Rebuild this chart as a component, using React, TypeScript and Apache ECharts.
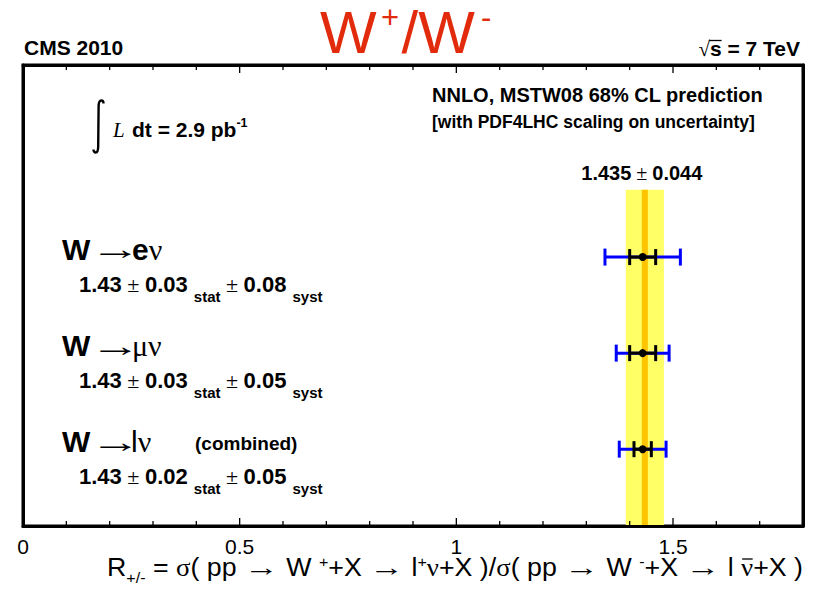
import React, { useEffect, useRef } from 'react';
import * as echarts from 'echarts';

const SANS = 'Liberation Sans';
const SERIF = 'Liberation Serif';

// ---------- data ----------
const channelLepton = ['e', 'μ', 'l'];
const ratio = [1.43, 1.43, 1.43];
const statErr = [0.03, 0.03, 0.02];
const systErr = [0.08, 0.05, 0.05];
const totalErr = [0.087, 0.061, 0.054];
const rowY = [2.8, 1.8, 0.8];
const predCentral = 1.435;
const predErr = 0.044;
const predTop = 3.5;
const xMin = 0;
const xMax = 1.8;
const xMajor = 0.5;
const majorTicks = [0, 0.5, 1, 1.5];
const minorTicks = [0.1, 0.2, 0.3, 0.4, 0.6, 0.7, 0.8, 0.9, 1.1, 1.2, 1.3, 1.4, 1.6, 1.7];
const yMin = 0;
const yMax = 4.8;
const lumiValue = '2.9';

// ---------- layout ----------
const GL = 23, GT = 65, GW = 780, GH = 461;

let _ctx: CanvasRenderingContext2D | null = null;
function measure(t: string, fs: number, bold: boolean, serif: boolean, italic: boolean) {
  if (!_ctx) _ctx = document.createElement('canvas').getContext('2d');
  const c = _ctx as CanvasRenderingContext2D;
  c.font = `${italic ? 'italic ' : ''}${bold ? 'bold' : 'normal'} ${fs}px "${serif ? SERIF : SANS}"`;
  return c.measureText(t).width;
}

type Run = { t: string; fs: number; b?: boolean; serif?: boolean; it?: boolean; dy?: number; over?: boolean; dx?: number; sx?: number; at?: number };

function runs(list: Run[], x0: number, baseline: number, color: string) {
  let x = x0;
  const els: any[] = [];
  for (const r of list) {
    if (r.at !== undefined) x = x0 + r.at;
    x += r.dx || 0;
    const sx = r.sx || 1;
    const w = measure(r.t, r.fs, !!r.b, !!r.serif, !!r.it) * sx;
    const k = r.serif ? 0.3375 : 0.3465;
    els.push({
      type: 'text',
      x,
      y: baseline + (r.dy || 0) - k * r.fs,
      scaleX: sx,
      z: 100,
      silent: true,
      style: {
        text: r.t,
        fontSize: r.fs,
        fontFamily: r.serif ? SERIF : SANS,
        fontWeight: r.b ? 'bold' : 'normal',
        fontStyle: r.it ? 'italic' : 'normal',
        fill: color,
        align: 'left',
        verticalAlign: 'middle',
      },
    });
    if (r.over) {
      const yy = baseline + (r.dy || 0) - 0.68 * r.fs;
      els.push({
        type: 'line', z: 100, silent: true,
        shape: { x1: x + 0.08 * w, y1: yy, x2: x + 0.95 * w, y2: yy },
        style: { stroke: color, lineWidth: 1.3 },
      });
    }
    x += w;
  }
  return { els, width: x - x0 };
}

function rowPx(y: number) {
  return GT + ((yMax - y) / (yMax - yMin)) * GH;
}

function buildGraphics() {
  const els: any[] = [];
  const red = '#E22A0C';
  const T = (t: string, x: number, baseline: number, fs: number, color: string) =>
    runs([{ t, fs }], x, baseline, color).els;
  // Title W+/W-
  els.push(...T('W', 320, 53, 60, red));
  els.push(...runs([{ t: '+', fs: 31 }], 381, 28.5, red).els);
  els.push(...T('/W', 401.5, 53, 60, red));
  els.push(...runs([{ t: '-', fs: 31 }], 481, 28.5, red).els);

  // CMS 2010
  els.push(...runs([{ t: 'CMS 2010', fs: 21, b: true }], 24, 55, '#000').els);
  // sqrt s = 7 TeV (right aligned at 800)
  const rs: Run[] = [{ t: '√', fs: 21, serif: true }, { t: 's', fs: 21, b: true }, { t: ' = 7 TeV', fs: 21, b: true }];
  const tmp = runs(rs, 0, 56, '#000');
  const sx0 = 800 - tmp.width;
  els.push(...runs(rs, sx0, 56, '#000').els);
  const wRad = measure('√', 21, false, true, false);
  const wS = measure('s', 21, true, false, false);
  els.push({
    type: 'line', z: 100, silent: true,
    shape: { x1: sx0 + wRad - 1, y1: 40.5, x2: sx0 + wRad + wS, y2: 40.5 },
    style: { stroke: '#000', lineWidth: 1.3 },
  });

  // Luminosity
  els.push({
    type: 'integral', x: 93, y: 100, z: 100, silent: true,
    style: { stroke: '#000', lineWidth: 2.4, fill: 'none' },
  });
  els.push(...runs([{ t: 'L', fs: 21, serif: true, it: true }], 113, 137, '#000').els);
  els.push(...runs([{ t: 'dt = ' + lumiValue + ' pb', fs: 21, b: true }, { t: '-1', fs: 12.5, b: true, dy: -9.5 }], 132, 137, '#000').els);

  // Prediction legend
  els.push(...runs([{ t: 'NNLO, MSTW08 68% CL prediction', fs: 20, b: true }], 432, 102, '#000').els);
  els.push(...runs([{ t: '[with PDF4LHC scaling on uncertainty]', fs: 17.5, b: true }], 432, 128, '#000').els);
  const pr: Run[] = [
    { t: predCentral.toFixed(3), fs: 20, b: true },
    { t: ' ± ', fs: 20, serif: true },
    { t: predErr.toFixed(3), fs: 20, b: true },
  ];
  const pw = runs(pr, 0, 0, '#000').width;
  const pcx = GL + ((predCentral - xMin) / (xMax - xMin)) * GW;
  els.push(...runs(pr, pcx - pw / 2 - 3, 180, '#000').els);

  // Row labels
  for (let i = 0; i < ratio.length; i++) {
    const py = rowPx(rowY[i]);
    const l1 = py + 2.5;
    const l2 = py + 35;
    const lep = channelLepton[i];
    const line1: Run[] = [
      { t: 'W', fs: 30, b: true },
      { t: '→', fs: 30, serif: true, sx: 1.7, at: 28 },
    ];
    if (lep === 'e') line1.push({ t: 'e', fs: 30, b: true, at: 70 });
    else if (lep === 'μ') line1.push({ t: 'μ', fs: 30, serif: true, at: 70 });
    else line1.push({ t: 'l', fs: 30, at: 69 });
    line1.push({ t: 'ν', fs: 30, serif: true });
    els.push(...runs(line1, 62, l1, '#000').els);
    if (lep === 'l') {
      els.push(...runs([{ t: '(combined)', fs: 19, b: true }], 195, l1 - 1.5, '#000').els);
    }
    const line2: Run[] = [
      { t: ratio[i].toFixed(2), fs: 22, b: true },
      { t: ' ± ', fs: 22, serif: true },
      { t: statErr[i].toFixed(2), fs: 22, b: true },
      { t: ' ', fs: 22, b: true },
      { t: 'stat', fs: 15, b: true, dy: 9.5 },
      { t: ' ± ', fs: 22, serif: true },
      { t: systErr[i].toFixed(2), fs: 22, b: true },
      { t: ' ', fs: 22, b: true },
      { t: 'syst', fs: 15, b: true, dy: 9.5 },
    ];
    els.push(...runs(line2, 79, l2, '#000').els);
  }

  // X axis title (compressed to fit the reference width)
  const F = 25, S = 15;
  const arrow = (): Run => ({ t: '→', fs: F, serif: true, sx: 1.3 });
  const tr: Run[] = [
    { t: 'R', fs: F },
    { t: '+/-', fs: S, dy: 6.5 },
    { t: ' = ', fs: F },
    { t: 'σ', fs: F, serif: true },
    { t: '( pp ', fs: F },
    arrow(),
    { t: ' W ', fs: F },
    { t: '+', fs: S, dy: -9 },
    { t: '+X ', fs: F },
    arrow(),
    { t: ' l', fs: F },
    { t: '+', fs: S, dy: -9 },
    { t: 'ν', fs: F, serif: true },
    { t: '+X )/', fs: F },
    { t: 'σ', fs: F, serif: true },
    { t: '( pp ', fs: F },
    arrow(),
    { t: ' W ', fs: F },
    { t: '-', fs: S, dy: -9 },
    { t: '+X ', fs: F },
    arrow(),
    { t: ' l ', fs: F },
    { t: 'ν', fs: F, serif: true, over: true },
    { t: '+X )', fs: F },
  ];
  const tt = runs(tr, 0, 0, '#000');
  const sc = (803 - 107) / tt.width;
  els.push({ type: 'group', x: 107, y: 576, scaleX: sc, z: 100, children: tt.els });
  return els;
}

let registered = false;
function registerShapes() {
  if (registered) return;
  registered = true;
  const d = 'M 10.5 3.5 C 10.5 1.5 9.5 0.5 8.3 0.5 C 6.2 0.5 5.6 2.5 5.6 7 L 5.2 46 C 5.2 50.5 4.6 52.5 2.7 52.5 C 1.5 52.5 0.5 51.5 0.5 49.5';
  echarts.graphic.registerShape('integral', (echarts.graphic as any).extendPath(d, {}));
}

export default function App() {
  const ref = useRef<HTMLDivElement>(null);
  useEffect(() => {
    if (!ref.current) return;
    registerShapes();
    const chart = echarts.init(ref.current, undefined, { renderer: 'svg' });
    const barData = ratio.map((v, i) => [v, rowY[i], statErr[i], totalErr[i]]);
    const bandData = [[predCentral, predErr, predTop]];
    const tickData = [
      ...majorTicks.map((v) => [v, 8]),
      ...minorTicks.map((v) => [v, 5]),
    ];
    const labelFmt = (v: number) => (Math.abs(v - xMax) < 1e-9 ? '' : String(Math.round(v * 10) / 10));
    const option: any = {
      animation: false,
      backgroundColor: '#fff',
      grid: {
        left: GL, top: GT, width: GW, height: GH,
        show: true, borderColor: '#000', borderWidth: 3, backgroundColor: 'transparent',
        containLabel: false, outerBoundsMode: 'none',
      },
      xAxis: [
        {
          type: 'value', min: xMin, max: xMax, interval: xMajor, position: 'bottom', z: 10,
          splitLine: { show: false },
          axisLine: { show: true, onZero: false, lineStyle: { color: '#000', width: 3 } },
          axisTick: { show: false },
          axisLabel: { show: true, margin: 10, fontSize: 21, fontFamily: SANS, color: '#000', formatter: labelFmt },
        },
        {
          type: 'value', min: xMin, max: xMax, interval: xMajor, position: 'top', z: 10,
          splitLine: { show: false },
          axisLine: { show: true, onZero: false, lineStyle: { color: '#000', width: 3 } },
          axisTick: { show: false },
          axisLabel: { show: false },
        },
      ],
      yAxis: [
        {
          type: 'value', min: yMin, max: yMax, position: 'left', z: 10,
          axisLine: { show: true, onZero: false, lineStyle: { color: '#000', width: 3 } },
          axisTick: { show: false }, axisLabel: { show: false }, splitLine: { show: false },
        },
        {
          type: 'value', min: yMin, max: yMax, position: 'right', z: 10,
          axisLine: { show: true, onZero: false, lineStyle: { color: '#000', width: 3 } },
          axisTick: { show: false }, axisLabel: { show: false }, splitLine: { show: false },
        },
      ],
      series: [
        {
          type: 'custom', xAxisIndex: 0, yAxisIndex: 0, z: 1, silent: true,
          data: bandData,
          renderItem: (_p: any, api: any) => {
            const c = api.value(0), e = api.value(1), top = api.value(2);
            const p1 = api.coord([c - e, top]);
            const p2 = api.coord([c + e, yMin]);
            const pc = api.coord([c, top]);
            return {
              type: 'group',
              children: [
                { type: 'rect', shape: { x: p1[0], y: p1[1], width: p2[0] - p1[0], height: p2[1] - p1[1] }, style: { fill: '#FFFF66' } },
                { type: 'rect', shape: { x: pc[0] - 3, y: p1[1], width: 6, height: p2[1] - p1[1] }, style: { fill: '#FFC400' } },
              ],
            };
          },
        },
        {
          type: 'custom', xAxisIndex: 0, yAxisIndex: 0, z: 20, silent: true, clip: false,
          data: tickData,
          renderItem: (_p: any, api: any) => {
            const v = api.value(0), len = api.value(1);
            const b = api.coord([v, yMin]);
            const t = api.coord([v, yMax]);
            const st = { stroke: '#000', lineWidth: 1.3 };
            return {
              type: 'group',
              children: [
                { type: 'line', shape: { x1: b[0], y1: b[1], x2: b[0], y2: b[1] - len }, style: st },
                { type: 'line', shape: { x1: t[0], y1: t[1], x2: t[0], y2: t[1] + len }, style: st },
              ],
            };
          },
        },
        {
          type: 'custom', xAxisIndex: 0, yAxisIndex: 0, z: 5, silent: true,
          data: barData,
          renderItem: (_p: any, api: any) => {
            const v = api.value(0), y = api.value(1), s = api.value(2), t = api.value(3);
            const [xl, yc] = api.coord([v - t, y]);
            const [xr] = api.coord([v + t, y]);
            const [sl] = api.coord([v - s, y]);
            const [sr] = api.coord([v + s, y]);
            const [xc] = api.coord([v, y]);
            const blue = { stroke: '#0000FF', lineWidth: 3 };
            const black = { stroke: '#000', lineWidth: 3 };
            return {
              type: 'group',
              children: [
                { type: 'line', shape: { x1: xl, y1: yc, x2: xr, y2: yc }, style: blue },
                { type: 'line', shape: { x1: xl, y1: yc - 8.5, x2: xl, y2: yc + 8.5 }, style: blue },
                { type: 'line', shape: { x1: xr, y1: yc - 8.5, x2: xr, y2: yc + 8.5 }, style: blue },
                { type: 'line', shape: { x1: sl, y1: yc, x2: sr, y2: yc }, style: black },
                { type: 'line', shape: { x1: sl, y1: yc - 8, x2: sl, y2: yc + 8 }, style: black },
                { type: 'line', shape: { x1: sr, y1: yc - 8, x2: sr, y2: yc + 8 }, style: black },
                { type: 'circle', shape: { cx: xc, cy: yc, r: 4 }, style: { fill: '#000' } },
              ],
            };
          },
        },
      ],
      graphic: { elements: buildGraphics() },
    };
    chart.setOption(option);
    return () => chart.dispose();
  }, []);
  return <div ref={ref} style={{ position: 'fixed', left: 0, top: 0, width: 819, height: 589, background: '#fff' }} />;
}
